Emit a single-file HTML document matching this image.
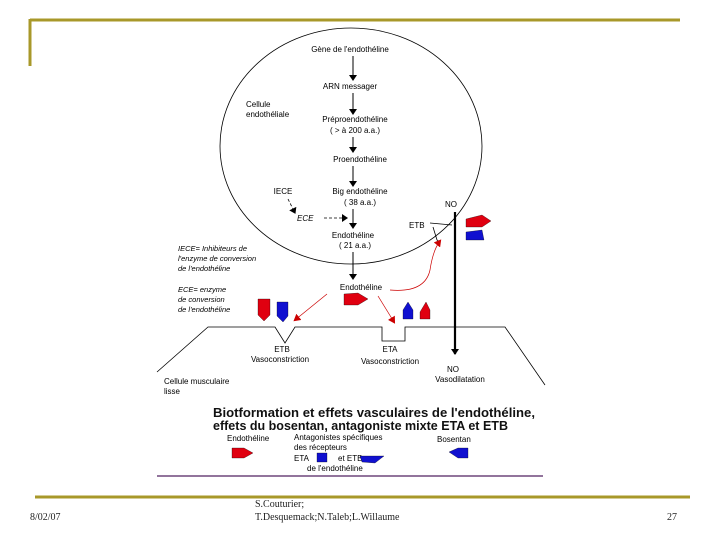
<!DOCTYPE html>
<html><head><meta charset="utf-8"><style>
html,body{margin:0;padding:0;background:#fff;}
svg{display:block;}
text{font-family:"Liberation Sans",sans-serif;}
</style></head><body>
<svg width="720" height="540" viewBox="0 0 720 540" xmlns="http://www.w3.org/2000/svg">
<defs>
<marker id="a" markerWidth="8" markerHeight="8" refX="5" refY="4" orient="auto" markerUnits="userSpaceOnUse"><path d="M0,0 L6,4 L0,8 Z" fill="#000"/></marker>
<marker id="r" markerWidth="8" markerHeight="8" refX="5" refY="4" orient="auto" markerUnits="userSpaceOnUse"><path d="M0,0 L7,4 L0,8 Z" fill="#c00"/></marker>
</defs>
<line x1="30" y1="20" x2="680" y2="20" stroke="#a8982a" stroke-width="3"/>
<line x1="30" y1="19" x2="30" y2="66" stroke="#a8982a" stroke-width="3"/>
<line x1="35" y1="497" x2="690" y2="497" stroke="#a8982a" stroke-width="3"/>
<line x1="157" y1="476" x2="543" y2="476" stroke="#502060" stroke-width="1.2"/>
<ellipse cx="351" cy="146" rx="131" ry="118" fill="none" stroke="#000" stroke-width="0.8"/>
<g font-size="8" fill="#000">
<text x="350" y="52" text-anchor="middle">Gène de l'endothéline</text>
<text x="350" y="89" text-anchor="middle">ARN messager</text>
<text x="246" y="107">Cellule</text>
<text x="246" y="117">endothéliale</text>
<text x="355" y="122" text-anchor="middle">Préproendothéline</text>
<text x="355" y="133" text-anchor="middle">( &gt; à 200 a.a.)</text>
<text x="360" y="162" text-anchor="middle">Proendothéline</text>
<text x="283" y="194" text-anchor="middle">IECE</text>
<text x="360" y="194" text-anchor="middle">Big endothéline</text>
<text x="360" y="205" text-anchor="middle">( 38 a.a.)</text>
<text x="445" y="207">NO</text>
<text x="297" y="221" font-style="italic">ECE</text>
<text x="409" y="228">ETB</text>
<text x="353" y="238" text-anchor="middle">Endothéline</text>
<text x="355" y="248" text-anchor="middle">( 21 a.a.)</text>
<g font-style="italic" font-size="7.5">
<text x="178" y="251">IECE= Inhibiteurs de</text>
<text x="178" y="261">l'enzyme de conversion</text>
<text x="178" y="271">de l'endothéline</text>
<text x="178" y="292">ECE= enzyme</text>
<text x="178" y="302">de conversion</text>
<text x="178" y="312">de l'endothéline</text>
</g>
<text x="361" y="290" text-anchor="middle">Endothéline</text>
<text x="282" y="352" text-anchor="middle">ETB</text>
<text x="280" y="362" text-anchor="middle">Vasoconstriction</text>
<text x="390" y="352" text-anchor="middle">ETA</text>
<text x="390" y="364" text-anchor="middle">Vasoconstriction</text>
<text x="453" y="372" text-anchor="middle">NO</text>
<text x="460" y="382" text-anchor="middle">Vasodilatation</text>
<text x="164" y="384">Cellule musculaire</text>
<text x="164" y="394">lisse</text>
<text x="227" y="441">Endothéline</text>
<text x="294" y="440">Antagonistes spécifiques</text>
<text x="294" y="450">des récepteurs</text>
<text x="294" y="461">ETA</text>
<text x="338" y="461">et ETB</text>
<text x="307" y="471">de l'endothéline</text>
<text x="437" y="442">Bosentan</text>
</g>
<text x="213" y="417" font-size="12.5" font-weight="bold" fill="#111" textLength="322" lengthAdjust="spacingAndGlyphs">Biotformation et effets vasculaires de l'endothéline,</text>
<text x="213" y="430" font-size="12.5" font-weight="bold" fill="#111" textLength="295" lengthAdjust="spacingAndGlyphs">effets du bosentan, antagoniste mixte ETA et ETB</text>
<g stroke="#000" stroke-width="1" marker-end="url(#a)">
<line x1="353" y1="56" x2="353" y2="80"/>
<line x1="353" y1="93" x2="353" y2="114"/>
<line x1="353" y1="137" x2="353" y2="152"/>
<line x1="353" y1="166" x2="353" y2="186"/>
<line x1="353" y1="209" x2="353" y2="228"/>
<line x1="353" y1="252" x2="353" y2="279"/>
</g>
<g stroke="#000" stroke-width="0.8" stroke-dasharray="3,2" marker-end="url(#a)" fill="none">
<line x1="288" y1="199" x2="295" y2="213"/>
<line x1="324" y1="218" x2="347" y2="218"/>
</g>
<line x1="455" y1="212" x2="455" y2="354" stroke="#000" stroke-width="2.2" marker-end="url(#a)"/>
<path d="M430,223 L452,225 M433,227 L437,240 L440,242" stroke="#000" stroke-width="0.8" fill="none"/>
<path d="M157,372 L208,327 L275,327 L285,343 L295,327 L382,327 L382,341 L405,341 L405,327 L505,327 L545,385" stroke="#000" stroke-width="0.8" fill="none"/>
<g stroke="#c00" stroke-width="0.7" fill="none" marker-end="url(#r)">
<path d="M327,294 L295,320"/>
<path d="M378,296 L394,322"/>
<path d="M390,290 Q425,293 430,270 Q433,250 440,241"/>
</g>
<g stroke="#000" stroke-width="0.3">
<path d="M466,219 L482,215 L491,221 L482,227 L466,227 Z" fill="#e00010"/>
<path d="M466,232 L482,230 L484,240 L466,240 Z" fill="#1010d0"/>
<path d="M344,294 L358,293 L368,299 L358,305 L344,305 Z" fill="#e00010"/>
<path d="M258,299 L270,299 L270,315 L264,321 L258,315 Z" fill="#e00010"/>
<path d="M277,302 L288,302 L288,316 L283,322 L277,316 Z" fill="#1010d0"/>
<path d="M403,310 L403,319 L413,319 L413,310 L408,302 Z" fill="#1010d0"/>
<path d="M420,312 L420,319 L430,319 L430,310 L426,302 Z" fill="#e00010"/>
<path d="M232,448 L244,448 L253,453 L244,458 L232,458 Z" fill="#e00010"/>
<rect x="317" y="453" width="10" height="9" fill="#1010d0"/>
<path d="M360,456 L384,456 L375,463 L362,462 Z" fill="#1010d0"/>
<path d="M449,452 L458,448 L468,448 L468,458 L458,458 Z" fill="#1010d0"/>
</g>
<g style="font-family:'Liberation Serif',serif" font-size="10" fill="#222">
<text x="30" y="520" style="font-family:'Liberation Serif',serif">8/02/07</text>
<text x="255" y="507" style="font-family:'Liberation Serif',serif">S.Couturier;</text>
<text x="255" y="520" style="font-family:'Liberation Serif',serif">T.Desquemack;N.Taleb;L.Willaume</text>
<text x="667" y="520" style="font-family:'Liberation Serif',serif">27</text>
</g>
</svg>
</body></html>
